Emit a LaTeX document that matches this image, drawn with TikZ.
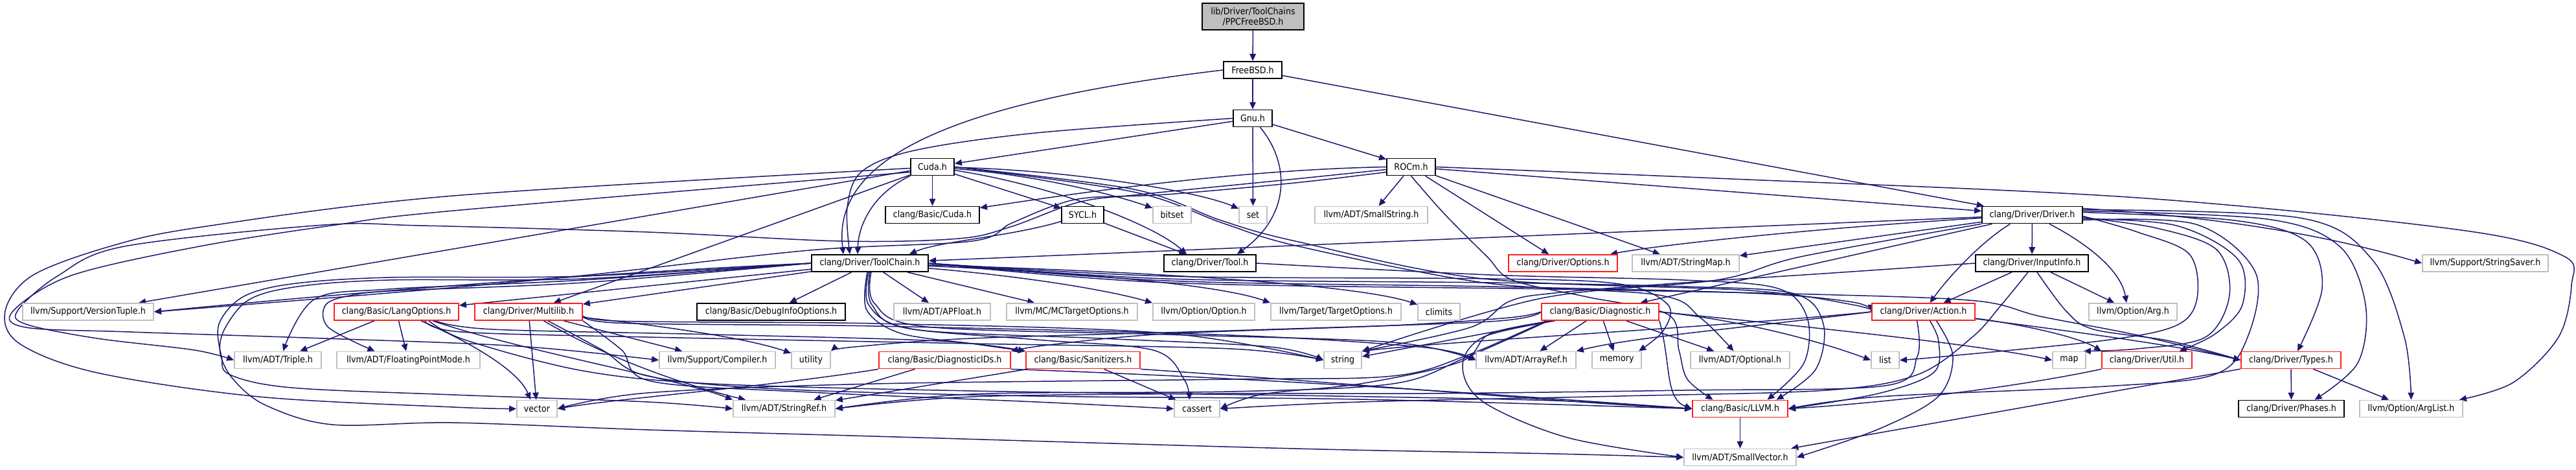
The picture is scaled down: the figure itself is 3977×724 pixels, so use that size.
\documentclass[tikz,border=0pt]{standalone}
\usepackage{fontspec}
\setmainfont{DejaVu Sans}[FakeStretch=0.9]
\usetikzlibrary{arrows.meta}
\definecolor{edgec}{HTML}{191970}
\definecolor{gb}{HTML}{BFBFBF}
\definecolor{rb}{HTML}{FF2020}
\pgfdeclarelayer{edgelayer}
\pgfsetlayers{edgelayer,main}
\tikzset{
  nbox/.style={draw=black, fill=white, line width=0.9pt, minimum height=13pt, inner sep=0pt, font=\fontsize{7.05}{8.5}\selectfont},
  gbox/.style={nbox, draw=gb},
  rbox/.style={nbox, draw=rb},
  edg/.style={draw=edgec, line width=0.75pt, -{Triangle[length=5.5pt,width=4.8pt]}},
  sm/.style={smooth, tension=0.55},
}
\begin{document}
\begin{tikzpicture}[x=0.5pt,y=-0.5pt]
\useasboundingbox (0,0) rectangle (3977,724);
% ---------- nodes ----------
\node[nbox, fill=gb, minimum width=78.5pt, minimum height=20.5pt, align=center, font=\fontsize{7.05}{8}\selectfont] (root) at (1934.5,25.5) {lib/Driver/ToolChains\\/PPCFreeBSD.h};
\node[nbox, minimum width=45pt] (fbsd) at (1934,108) {FreeBSD.h};
\node[nbox, minimum width=30pt] (gnu) at (1934,182.5) {Gnu.h};
\node[nbox, minimum width=33.5pt] (cuda) at (1439.5,257.5) {Cuda.h};
\node[nbox, minimum width=37.5pt] (rocm) at (2178.5,257.5) {ROCm.h};
\node[nbox, minimum width=72.5pt] (bcuda) at (1439.5,331.5) {clang/Basic/Cuda.h};
\node[nbox, minimum width=32.5pt] (sycl) at (1671.5,331.5) {SYCL.h};
\node[gbox, minimum width=29.5pt] (bitset) at (1809.5,331.5) {bitset};
\node[gbox, minimum width=21.5pt] (set) at (1934.5,331.5) {set};
\node[gbox, minimum width=87pt] (sstr) at (2117,331.5) {llvm/ADT/SmallString.h};
\node[nbox, minimum width=77.5pt] (driver) at (3137.5,331.5) {clang/Driver/Driver.h};
\node[nbox, minimum width=90pt] (tc) at (1343,406) {clang/Driver/ToolChain.h};
\node[nbox, minimum width=71pt] (tool) at (1868,406) {clang/Driver/Tool.h};
\node[rbox, minimum width=84pt] (opts) at (2413,406) {clang/Driver/Options.h};
\node[gbox, minimum width=82.5pt] (smap) at (2602.5,406) {llvm/ADT/StringMap.h};
\node[nbox, minimum width=87pt] (input) at (3137,406) {clang/Driver/InputInfo.h};
\node[gbox, minimum width=97pt] (ssaver) at (3837,406) {llvm/Support/StringSaver.h};
\node[gbox, minimum width=101pt] (vt) at (136,481) {llvm/Support/VersionTuple.h};
\node[rbox, minimum width=96pt] (lang) at (612,481) {clang/Basic/LangOptions.h};
\node[rbox, minimum width=83pt] (mlib) at (816,481) {clang/Driver/Multilib.h};
\node[nbox, minimum width=114.5pt] (dbg) at (1190.5,481) {clang/Basic/DebugInfoOptions.h};
\node[gbox, minimum width=74.5pt] (apf) at (1454.5,481) {llvm/ADT/APFloat.h};
\node[gbox, minimum width=101pt] (mct) at (1655,481) {llvm/MC/MCTargetOptions.h};
\node[gbox, minimum width=78.5pt] (opt) at (1858.5,481) {llvm/Option/Option.h};
\node[gbox, minimum width=100.5pt] (tgt) at (2062.5,481) {llvm/Target/TargetOptions.h};
\node[gbox, minimum width=32.5pt] (climits) at (2221.5,481) {climits};
\node[rbox, minimum width=90.5pt] (diag) at (2470.5,481) {clang/Basic/Diagnostic.h};
\node[rbox, minimum width=79.5pt] (action) at (2969.5,481) {clang/Driver/Action.h};
\node[gbox, minimum width=68pt] (arg) at (3293,481) {llvm/Option/Arg.h};
\node[gbox, minimum width=67pt] (triple) at (429,555.5) {llvm/ADT/Triple.h};
\node[gbox, minimum width=110.5pt] (fpm) at (630.5,555.5) {llvm/ADT/FloatingPointMode.h};
\node[gbox, minimum width=89.5pt] (comp) at (1107.5,555.5) {llvm/Support/Compiler.h};
\node[gbox, minimum width=30pt] (utility) at (1252,555.5) {utility};
\node[rbox, minimum width=101.5pt] (dids) at (1458.5,555.5) {clang/Basic/DiagnosticIDs.h};
\node[rbox, minimum width=88pt] (san) at (1672,555.5) {clang/Basic/Sanitizers.h};
\node[gbox, minimum width=29pt] (string) at (2073,555.5) {string};
\node[gbox, minimum width=77pt] (aref) at (2356,555.5) {llvm/ADT/ArrayRef.h};
\node[gbox, minimum width=38pt] (memory) at (2496,555.5) {memory};
\node[gbox, minimum width=76.5pt] (optional) at (2686.5,555.5) {llvm/ADT/Optional.h};
\node[gbox, minimum width=21.5pt] (list) at (2910.5,555.5) {list};
\node[gbox, minimum width=25.5pt] (map) at (3194.5,555.5) {map};
\node[rbox, minimum width=69.5pt] (util) at (3314.5,555.5) {clang/Driver/Util.h};
\node[rbox, minimum width=77pt] (types) at (3537,555.5) {clang/Driver/Types.h};
\node[gbox, minimum width=31pt] (vector) at (829,630.5) {vector};
\node[gbox, minimum width=78.5pt] (sref) at (1210.5,630.5) {llvm/ADT/StringRef.h};
\node[gbox, minimum width=35pt] (cassert) at (1848,630.5) {cassert};
\node[rbox, minimum width=73.5pt] (llvm) at (2686.5,630.5) {clang/Basic/LLVM.h};
\node[nbox, minimum width=81.5pt] (phases) at (3537.5,630.5) {clang/Driver/Phases.h};
\node[gbox, minimum width=79.5pt] (arglist) at (3722.5,630.5) {llvm/Option/ArgList.h};
\node[gbox, minimum width=86.5pt] (svec) at (2686.5,705.5) {llvm/ADT/SmallVector.h};
% ---------- edges ----------
\begin{pgfonlayer}{edgelayer}
% top
\draw[edg] (root) -- (fbsd);
\draw[edg] (fbsd) -- (gnu);
\draw[edg] (fbsd) -- (driver);
\draw[edg] (fbsd.west) .. controls (1450,160) and (1285,250) .. ([xshift=25pt]tc.north west);
\draw[edg] (gnu) -- (cuda);
\draw[edg] plot[sm] coordinates {(gnu.west) (1600,205) (1412,232) (1330,265) (1308,320) ([xshift=30pt]tc.north west)};
\draw[edg] (gnu) -- (set);
\draw[edg] (gnu) .. controls (1990,250) and (1995,330) .. ([xshift=21pt]tool.north);
\draw[edg] (gnu) -- (rocm);
% cuda
\draw[edg] (cuda) -- (bcuda);
\draw[edg] (cuda) -- (sycl);
\draw[edg] (cuda) .. controls (1600,270) and (1720,300) .. (bitset);
\draw[edg] (cuda) .. controls (1650,262) and (1850,295) .. (set);
\draw[edg] (cuda) .. controls (1620,285) and (1780,345) .. ([xshift=-18pt]tool.north);
\draw[edg] (cuda.south west) .. controls (1345,300) and (1325,350) .. ([xshift=36pt]tc.north west);
\draw[edg] (cuda) -- (mlib);
\draw[edg] (cuda) -- ([xshift=39pt]vt.north);
\draw[edg] plot[sm] coordinates {([yshift=-1pt]cuda.west) (700,302) (312,350) (170,380) (50,425) (8,480) (30,530) (150,575) (400,612) (700,628) (vector.west)};
\draw[edg] plot[sm] coordinates {([yshift=-4pt]cuda.west) (700,325) (518,347) (308,380) (110,425) (20,480) (40,505) (200,512) (500,522) (800,534) (comp.west)};
\draw[edg] plot[sm] coordinates {(cuda.east) (1750,292) (1885,340) (2000,372) (2290,430) (2700,448) (2860,470) (action.west)};
\draw[edg] plot[sm] coordinates {(cuda.east) (1750,296) (1890,345) (2005,380) (2290,436) (2560,455) (2625,490) ([xshift=-5pt]optional.north)};
% rocm
\draw[edg] (rocm.west) .. controls (1900,262) and (1650,300) .. (bcuda);
\draw[edg] (rocm) -- (sstr);
\draw[edg] (rocm) -- (opts);
\draw[edg] (rocm) -- (smap);
\draw[edg] (rocm) -- (driver);
\draw[edg] plot[sm] coordinates {(rocm.south) (2230,330) (2295,395) (2335,432) (2450,458) (2575,485) (2592,540) (2605,585) ([xshift=-21pt]llvm.north)};
\draw[edg] plot[sm] coordinates {(rocm.east) (2650,275) (3300,305) (3800,355) (3958,395) (3970,440) (3950,520) (3880,590) ([xshift=-3pt]arglist.north east)};
\draw[edg] plot[sm] coordinates {([yshift=-2pt]rocm.west) (2000,276) (1760,300) (1665,312) (1560,350) (1480,368) (1300,372) (1000,358) (650,348) (500,347) (192,380) (90,425) (28,478) (40,500) (150,522) (300,540) (triple.west)};
\draw[edg] plot[sm] coordinates {([yshift=-4pt]rocm.west) (2000,282) (1800,300) (1680,305) (1625,318) (1560,345) (1500,372) (1250,386) (900,425) (600,452) (vt.east)};
% sycl
\draw[edg] (sycl) .. controls (1560,365) and (1450,372) .. ([xshift=-15pt]tc.north east);
\draw[edg] (sycl) -- (tool);
% tool
\draw[edg] plot[sm] coordinates {(tool.east) (2300,424) (2600,432) (2745,445) (2790,490) (2785,560) ([xshift=21pt]llvm.north)};
% toolchain
\draw[edg] (tc) -- (dbg);
\draw[edg] (tc) -- (apf);
\draw[edg] (tc) -- (mct);
\draw[edg] (tc) .. controls (1600,428) and (1720,450) .. (opt.north west);
\draw[edg] (tc) .. controls (1750,425) and (1900,445) .. (tgt.north west);
\draw[edg] (tc) .. controls (1800,420) and (2100,440) .. (climits);
\draw[edg] (tc) -- (lang);
\draw[edg] (tc) -- (mlib);
\draw[edg] (tc.west) .. controls (900,422) and (500,455) .. (vt.east);
\draw[edg] plot[sm] coordinates {(tc.west) (900,432) (600,446) (485,462) ([xshift=4pt]triple.north)};
\draw[edg] plot[sm] coordinates {(tc.west) (900,436) (620,448) (545,455) (503,470) (507,505) ([xshift=-26pt]fpm.north)};
\draw[edg] plot[sm] coordinates {(tc.west) (900,426) (600,428) (450,438) (375,458) (338,500) (342,550) (355,578) (450,598) (700,609) (1000,620) (sref.west)};
\draw[edg] plot[sm] coordinates {(tc.west) (900,430) (600,432) (460,442) (385,462) (347,507) (340,545) (360,585) (410,625) (513,655) (700,652) (1000,663) (1350,673) (2000,692) (2400,700) (svec.west)};
\draw[edg] plot[sm] coordinates {([xshift=-1pt]tc.south) (1341,470) (1400,506) (1600,524) (1780,540) (1828,585) ([xshift=-6pt]cassert.north)};
\draw[edg] plot[sm] coordinates {(tc.south) (1346,470) (1410,508) (1700,522) (1960,535) (string.west)};
\draw[edg] plot[sm] coordinates {([xshift=1pt]tc.south) (1350,468) (1430,504) (1800,516) (2150,528) (aref.west)};
\draw[edg] plot[sm] coordinates {([xshift=-2pt]tc.south) (1338,478) (1390,514) (1500,530) (san.north west)};
\draw[edg] plot[sm] coordinates {(tc.east) (1800,426) (2300,430) (2500,438) (2575,470) (2568,510) ([xshift=17pt]memory.north)};
\draw[edg] plot[sm] coordinates {(tc.east) (1800,430) (2300,436) (2600,442) (2770,453) (2815,500) (2803,570) ([xshift=28pt]llvm.north)};
\draw[edg] plot[sm] coordinates {(tc.east) (1800,433) (2300,442) (2700,452) (2860,466) (action.west)};
\draw[edg] plot[sm] coordinates {(tc.east) (1800,436) (2400,446) (2800,454) (3050,464) (3150,488) (3300,517) (types.west)};
% langoptions
\draw[edg] (lang) -- (triple);
\draw[edg] (lang) -- (fpm);
\draw[edg] ([xshift=19pt]lang.south) .. controls (720,525) and (800,570) .. ([xshift=-5pt]vector.north);
\draw[edg] ([xshift=28pt]lang.south) .. controls (800,540) and (1050,585) .. (sref.north west);
\draw[edg] plot[sm] coordinates {([xshift=22pt]lang.south) (712,512) (1000,520) (1500,530) (1900,538) (string.west)};
\draw[edg] plot[sm] coordinates {([xshift=25pt]lang.south) (720,525) (900,572) (1100,592) (1500,603) (2000,610) (2400,618) (llvm.west)};
\draw[edg] plot[sm] coordinates {([xshift=30pt]lang.south) (760,508) (1100,516) (1450,526) (san.north west)};
% multilib
\draw[edg] (mlib) -- (vector);
\draw[edg] (mlib) -- (comp);
\draw[edg] (mlib) .. controls (1000,500) and (1150,520) .. (utility);
\draw[edg] (mlib) .. controls (950,560) and (1080,600) .. (sref);
\draw[edg] plot[sm] coordinates {([xshift=15pt]mlib.south) (930,540) (1000,580) (1200,600) (1600,611) (2100,616) (llvm.west)};
\draw[edg] plot[sm] coordinates {(mlib.south east) (960,540) (1005,588) (1250,605) (1600,620) (cassert.west)};
\draw[edg] plot[sm] coordinates {(mlib.east) (950,498) (1350,503) (1900,517) (2200,536) (aref.west)};
\draw[edg] plot[sm] coordinates {(mlib.east) (950,495) (1350,499) (1800,514) (string.west)};
% diagnosticids, sanitizers
\draw[edg] (dids) -- (sref);
\draw[edg] (dids.south west) .. controls (1200,595) and (950,615) .. (vector.east);
\draw[edg] (dids.south east) .. controls (2000,585) and (2400,615) .. (llvm.west);
\draw[edg] (san) -- (sref);
\draw[edg] (san) -- (cassert);
\draw[edg] (san.south east) .. controls (2100,592) and (2400,620) .. (llvm.west);
% diagnostic
\draw[edg] plot[sm] coordinates {(diag.west) (2330,490) (2150,502) (1800,515) (1620,532) (dids.north east)};
\draw[edg] (diag) -- (aref);
\draw[edg] (diag) -- (memory);
\draw[edg] (diag) -- (optional);
\draw[edg] (diag) -- (string);
\draw[edg] (diag.east) .. controls (2700,495) and (2820,530) .. (list.west);
\draw[edg] (diag.east) .. controls (2750,500) and (3050,530) .. (map.west);
\draw[edg] (diag.south east) .. controls (2580,560) and (2570,615) .. (llvm.west);
\draw[edg] plot[sm] coordinates {([xshift=-37pt]diag.south) (2300,515) (2255,558) (2100,592) (1950,608) (cassert.east)};
\draw[edg] plot[sm] coordinates {([xshift=-35pt]diag.south) (2290,520) (2258,565) (2290,620) (2420,675) (svec.west)};
\draw[edg] plot[sm] coordinates {(diag.west) (2300,496) (1900,510) (1500,522) (1320,535) (utility.north east)};
\draw[edg] plot[sm] coordinates {([xshift=-42pt]diag.south) (2265,548) (2150,580) (1900,585) (1350,592) (1000,606) (vector.east)};
\draw[edg] plot[sm] coordinates {([xshift=-40pt]diag.south) (2262,552) (2150,592) (1900,604) (1500,608) (sref.east)};
% action
\draw[edg] plot[sm] coordinates {([xshift=5pt]action.south) (2993,527) (2985,575) (2900,607) (llvm.east)};
\draw[edg] plot[sm] coordinates {([xshift=10pt]action.south) (3015,550) (2992,612) (2900,662) (svec.east)};
\draw[edg] (action.west) .. controls (2650,505) and (2250,525) .. (string.north east);
\draw[edg] (action.west) .. controls (2700,505) and (2520,520) .. (aref.north east);
\draw[edg] (action) .. controls (3150,505) and (3350,530) .. (types.west);
\draw[edg] (action) .. controls (3120,500) and (3210,520) .. (util.north west);
\draw[edg] plot[sm] coordinates {([xshift=-5pt]action.south) (2960,550) (2910,595) (2600,602) (2200,607) (1900,607) (1500,612) (sref.east)};
% inputinfo
\draw[edg] (input) -- (action);
\draw[edg] (input) -- (arg);
\draw[edg] plot[sm] coordinates {([xshift=4pt]input.south) (3190,480) (3232,508) (3350,526) (types.west)};
\draw[edg] plot[sm] coordinates {([xshift=-3pt]input.south) (3090,470) (3045,520) (2960,578) (2820,602) (2500,611) (2100,620) (cassert.east)};
\draw[edg] plot[sm] coordinates {(input.west) (2800,423) (2600,436) (2400,452) (2330,465) (2270,505) (string.north east)};
% driver
\draw[edg] (driver) -- (tc);
\draw[edg] (driver) .. controls (2800,352) and (2560,378) .. (opts);
\draw[edg] (driver) -- (smap);
\draw[edg] (driver) -- (diag);
\draw[edg] plot[sm] coordinates {(driver.south west) (2780,396) (2650,432) (2380,460) (string.north east)};
\draw[edg] ([xshift=-17pt]driver.south) .. controls (3060,372) and (3010,425) .. ([xshift=5pt]action.north);
\draw[edg] (driver) -- (input);
\draw[edg] (driver) .. controls (3230,380) and (3275,420) .. ([xshift=-5pt]arg.north);
\draw[edg] plot[sm] coordinates {([yshift=-1pt]driver.east) (3300,358) (3380,392) (3392,460) (3360,502) (3250,525) (3000,550) (list.east)};
\draw[edg] plot[sm] coordinates {([yshift=-2pt]driver.east) (3330,352) (3422,385) (3442,455) (3405,520) (3300,538) ([xshift=-2pt]map.north east)};
\draw[edg] plot[sm] coordinates {([yshift=-3pt]driver.east) (3360,348) (3455,400) (3462,470) (3420,515) ([xshift=25pt]util.north)};
\draw[edg] plot[sm] coordinates {([yshift=-4pt]driver.east) (3390,346) (3482,420) (3470,520) (3418,578) (3250,596) (2900,612) (llvm.east)};
\draw[edg] plot[sm] coordinates {([yshift=2pt]driver.east) (3450,340) (3560,372) (3585,445) ([xshift=5pt]types.north)};
\draw[edg] plot[sm] coordinates {([yshift=3pt]driver.east) (3500,338) (3612,380) (3652,470) (3640,560) ([xshift=18pt]phases.north)};
\draw[edg] plot[sm] coordinates {([yshift=4pt]driver.east) (3550,336) (3662,400) (3712,520) (arglist.north)};
\draw[edg] ([yshift=5pt]driver.east) .. controls (3500,340) and (3650,380) .. (ssaver.west);
% types, util, llvm
\draw[edg] (types) -- (phases);
\draw[edg] (types) -- (arglist);
\draw[edg] (types) -- (svec);
\draw[edg] (util.south west) .. controls (3100,600) and (2900,622) .. (llvm.east);
\draw[edg] (llvm) -- (svec);
\end{pgfonlayer}
\end{tikzpicture}
\end{document}
